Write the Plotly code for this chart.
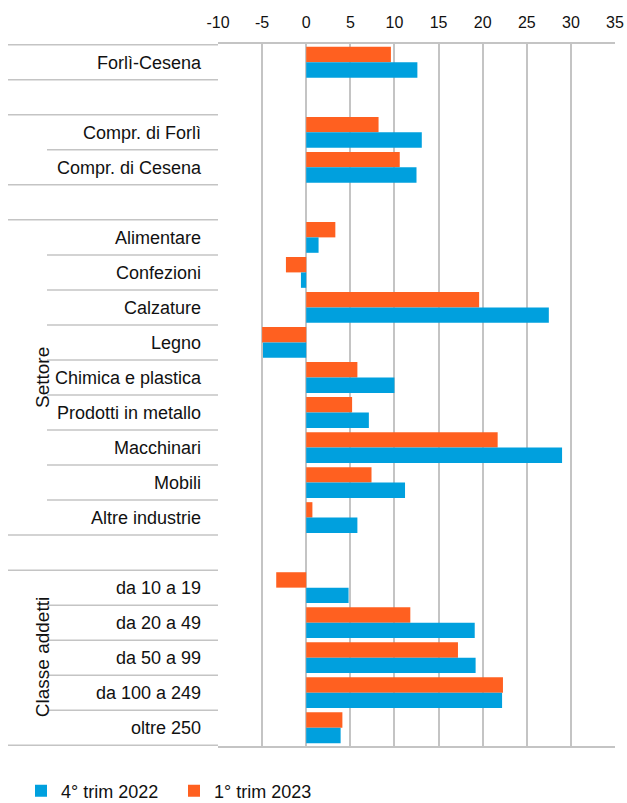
import plotly.graph_objects as go

# Row categories (top to bottom); blank strings are spacer rows
categories = ["Forlì-Cesena", " ", "Compr. di Forlì", "Compr. di Cesena", "  ",
              "Alimentare", "Confezioni", "Calzature", "Legno", "Chimica e plastica",
              "Prodotti in metallo", "Macchinari", "Mobili", "Altre industrie", "   ",
              "da 10 a 19", "da 20 a 49", "da 50 a 99", "da 100 a 249", "oltre 250"]

# Group structure: (label, number of rows)
groups = [("", 1), ("", 1), ("", 2), ("", 1), ("Settore", 9), ("", 1), ("Classe addetti", 5)]

trim_4_2022 = [12.6, None, 13.1, 12.5, None,
               1.4, -0.6, 27.5, -4.9, 10.0, 7.1, 29.0, 11.2, 5.8, None,
               4.8, 19.1, 19.2, 22.2, 3.9]
trim_1_2023 = [9.6, None, 8.2, 10.6, None,
               3.3, -2.3, 19.6, -5.0, 5.8, 5.2, 21.7, 7.4, 0.7, None,
               -3.4, 11.8, 17.2, 22.3, 4.1]

series_names = ["4° trim 2022", "1° trim 2023"]
x_ticks = [-10, -5, 0, 5, 10, 15, 20, 25, 30, 35]
x_tick_labels = ["-10", "-5", "0", "5", "10", "15", "20", "25", "30", "35"]

BLUE = "#00A0DE"
ORANGE = "#FF6020"
GRID = "#C4C4C4"
FONT = "Liberation Sans, Arial, sans-serif"

fig = go.Figure()
fig.add_trace(go.Bar(y=categories, x=trim_1_2023, orientation="h", name=series_names[1],
                     marker=dict(color=ORANGE, line=dict(width=0)), legendrank=2))
fig.add_trace(go.Bar(y=categories, x=trim_4_2022, orientation="h", name=series_names[0],
                     marker=dict(color=BLUE, line=dict(width=0)), legendrank=1))

W, H = 627, 803
L, T = 218, 44
R = W - 615
B = H - 746
pw = W - L - R
ph = H - T - B

def px_to_paper(px):
    return (px - L) / pw

def py_to_paper(py):
    return 1 - (py - T) / ph

shapes = []
annotations = []
start = 0
boundaries_full = {0}
for label, n in groups:
    end = start + n
    boundaries_full.add(end)
    for k in range(start + 1, end):
        shapes.append(dict(type="line", xref="paper", yref="y",
                           x0=px_to_paper(47), x1=0, y0=k - 0.5, y1=k - 0.5,
                           line=dict(color=GRID, width=1.5)))
    if label:
        annotations.append(dict(text=label, xref="paper", yref="y",
                                x=px_to_paper(30), y=(start + end - 1) / 2,
                                textangle=-90, showarrow=False,
                                font=dict(size=19, color="#111111", family=FONT)))
    start = end
for k in sorted(boundaries_full):
    shapes.append(dict(type="line", xref="paper", yref="y",
                       x0=px_to_paper(8), x1=0, y0=k - 0.5, y1=k - 0.5,
                       line=dict(color=GRID, width=1.5)))

fig.update_layout(
    width=W, height=H,
    margin=dict(l=L, r=R, t=T, b=B, autoexpand=False),
    plot_bgcolor="white", paper_bgcolor="white",
    barmode="group", bargap=0.12, bargroupgap=0,
    font=dict(family=FONT, size=18, color="#111111"),
    shapes=shapes, annotations=annotations,
    legend=dict(orientation="h", x=px_to_paper(21), xanchor="left",
                y=py_to_paper(791), yanchor="middle",
                font=dict(size=18, color="#111111"), itemwidth=30,
                entrywidth=108, entrywidthmode="pixels"),
    showlegend=True,
)
fig.update_xaxes(side="top", range=[-10, 35], tickvals=x_ticks, ticktext=x_tick_labels,
                 automargin=False, ticklabelstandoff=8,
                 showgrid=True, gridcolor=GRID, gridwidth=1.5, zeroline=False,
                 showline=True, mirror=True, linecolor=GRID, linewidth=1.5,
                 ticks="", tickfont=dict(size=16, color="#111111"))
fig.update_yaxes(type="category", categoryorder="array", categoryarray=categories,
                 autorange="reversed", showgrid=False, zeroline=False, automargin=False,
                 ticks="", ticklabelstandoff=16,
                 tickfont=dict(size=18, color="#111111"))

fig.write_html("out.html", config={"displayModeBar": False},
               post_script="document.body.style.margin='0';"
                           "document.body.style.overflow='hidden';")
